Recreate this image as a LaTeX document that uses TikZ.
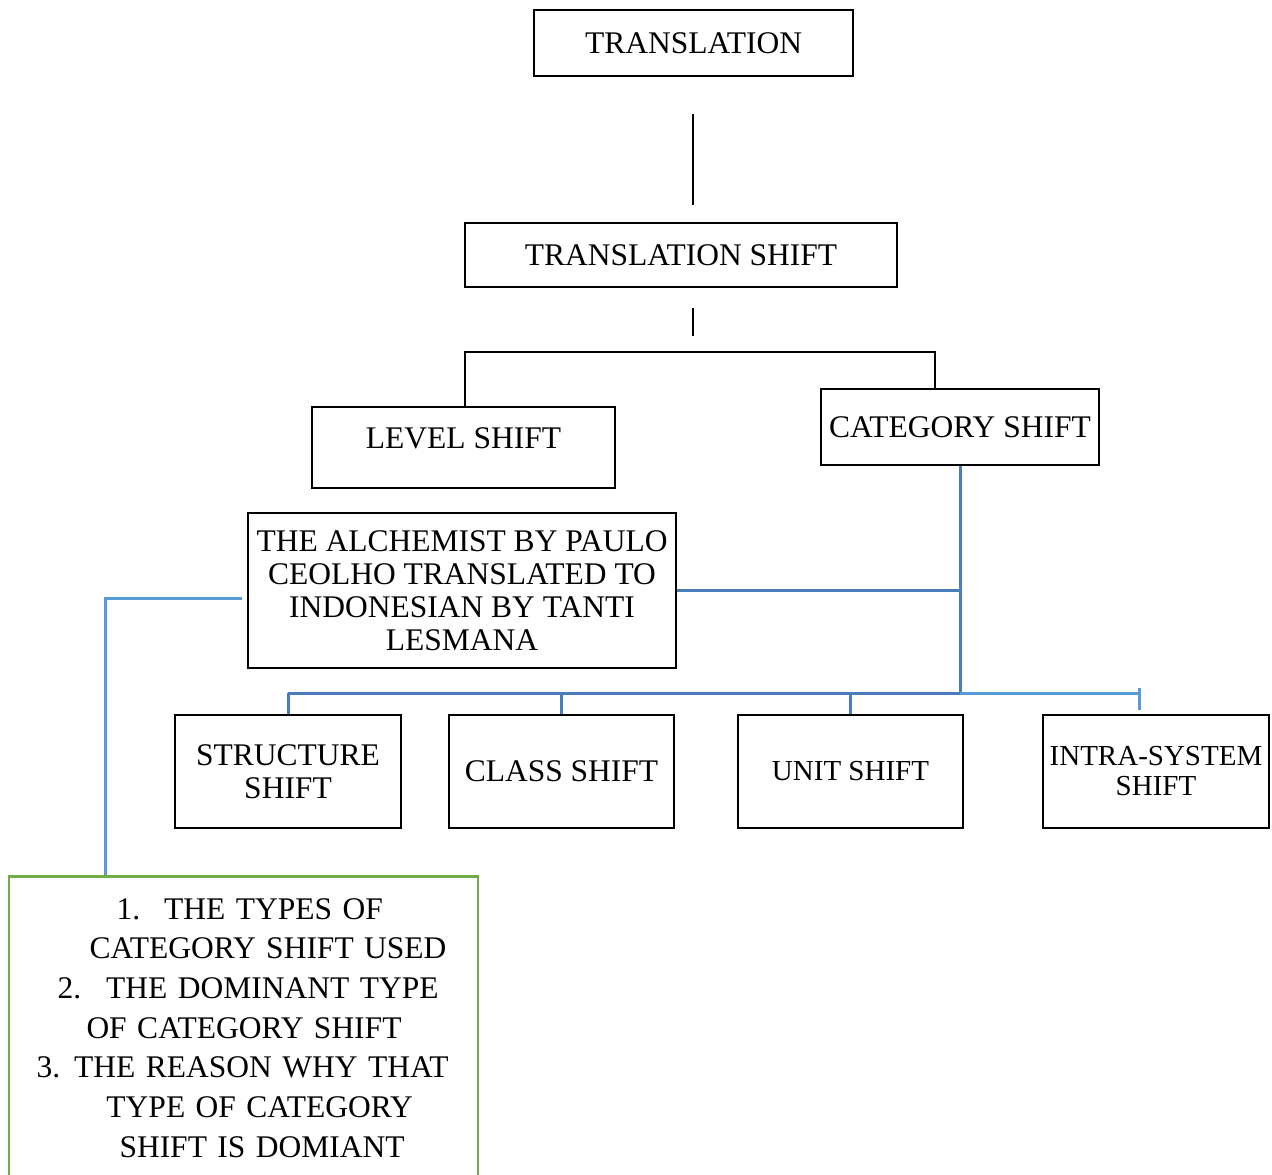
\documentclass[tikz,border=0pt]{standalone}
\usepackage{fontspec}
\setmainfont{Liberation Serif}
\usetikzlibrary{calc}
\definecolor{darkblue}{HTML}{4A7EBB}
\definecolor{paleblue}{HTML}{5B9BD5}
\definecolor{leafgreen}{HTML}{70AD47}

\begin{document}
\begin{tikzpicture}[x=1pt, y=-1pt,
		box/.style={draw, line width=2.3pt, inner sep=0pt, align=center, font=\fontsize{31.5}{33}\selectfont},
		smallbox/.style={box, font=\fontsize{29}{30}\selectfont},
		blueline/.style={darkblue, line width=3pt},
		paleline/.style={paleblue, line width=3pt}]
		\useasboundingbox (0,0) rectangle (1272,1175);
		
		\node[box, minimum width=319, minimum height=66] (translation) at (693.5, 43) {TRANSLATION};
		\node[box, minimum width=432, minimum height=64] (shift) at (681, 255) {TRANSLATION SHIFT};
		
		\node[box, minimum width=303, minimum height=81, text depth=19pt] (level) at (463.5, 447.5) {LEVEL SHIFT};
		\node[box, minimum width=278, minimum height=76] (category) at (960, 427) {CATEGORY SHIFT};
		
		\node[box, minimum width=428, minimum height=155] (alchemist) at (462, 590.5) {THE ALCHEMIST BY PAULO\\ CEOLHO TRANSLATED TO\\ INDONESIAN BY TANTI\\ LESMANA};
		
		\node[box, minimum width=226, minimum height=113] (structure) at (288, 771.5) {STRUCTURE\\ SHIFT};
		\node[box, minimum width=225, minimum height=113] (class) at (561.5, 771.5) {CLASS SHIFT};
		\node[smallbox, minimum width=225, minimum height=113] (unit) at (850.5, 771.5) {UNIT SHIFT};
		\node[smallbox, minimum width=226, minimum height=113] (intra) at (1156, 771.5) {INTRA-SYSTEM\\ SHIFT};
		
		\node[box, draw=leafgreen, align=left, text width=414pt, minimum width=469, minimum height=303, font=\fontsize{31.5}{39.7}\selectfont] (list) at (243.5, 1028) {%
			\hspace*{80pt}1.\hspace{24pt}THE TYPES OF\\
			\hspace*{53pt}CATEGORY SHIFT USED\\
			\hspace*{21pt}2.\hspace{25pt}THE DOMINANT TYPE\\
			\hspace*{50pt}OF CATEGORY SHIFT\\
			3.\hspace{14pt}THE REASON WHY THAT\\
			\hspace*{70pt}TYPE OF CATEGORY\\
			\hspace*{83pt}SHIFT IS DOMIANT};
		
		% black tree
		\draw[line width=2.3pt] ($(translation.south)+(-0.5,37)$) -- ($(translation.south)+(-0.5,128)$);
		\draw[line width=2.3pt] ($(translation.south |- shift.south)+(-0.5,20)$) -- ($(translation.south |- shift.south)+(-0.5,48)$);
		\draw[line width=2.3pt] ($(level.north)+(1.5,0)$) |- ($(category.north)+(-25,-36)$) -- ($(category.north)+(-25,0)$);
		
		% blue links
		\coordinate (hub) at ($(category.south)+(0,227)$);
		\draw[blueline] (category.south) -- (hub);
		\draw[blueline] (alchemist.east) -- (alchemist.east -| hub);
		\draw[blueline] (structure.north |- hub) -- (hub);
		\foreach \n in {structure, class, unit}
			\draw[blueline] (\n.north) -- (\n.north |- hub);
		\draw[paleline] (hub) -- ($(intra.north |- hub)+(-17,0)$);
		\draw[paleline] ($(intra.north)+(-17,-4)$) -- ($(intra.north)+(-17,-26)$);
		\draw[paleline] ($(alchemist.west)+(-5,7.5)$) -| ($(list.north west)+(98,0)$);
	\end{tikzpicture}
\end{document}
